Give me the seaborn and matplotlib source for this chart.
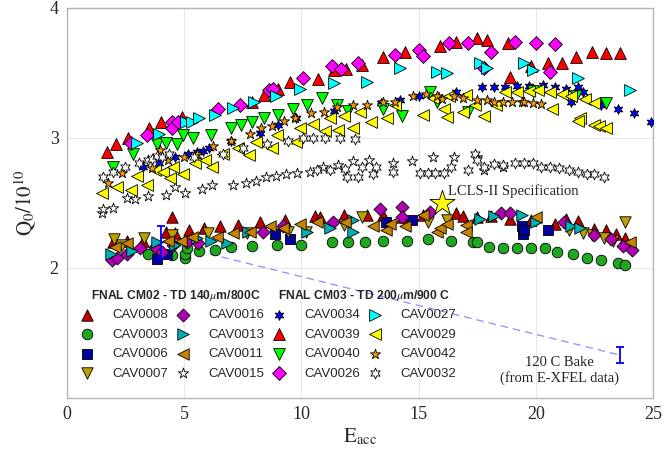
import numpy as np
import pandas as pd
import matplotlib
matplotlib.use("Agg")
import matplotlib.pyplot as plt
import seaborn as sns

# ---------------- data ----------------
# CM02 (lower band)
cav0008_x = [1.96, 2.56, 3.24, 4.22, 4.48, 4.6, 5.2, 5.84, 6.53, 7.3, 8.23, 9.3, 10.6, 10.8, 11.8, 12.8, 13.5, 14.3, 15.2, 16.6, 16.9, 17.5, 18.1, 18.9, 19.8, 20.8, 21.3, 21.8, 22.5, 23.0, 23.4, 23.8]
cav0008_y = [2.20, 2.21, 2.21, 2.28, 2.39, 2.27, 2.29, 2.31, 2.32, 2.33, 2.35, 2.37, 2.40, 2.39, 2.41, 2.41, 2.41, 2.39, 2.41, 2.42, 2.40, 2.39, 2.40, 2.38, 2.37, 2.34, 2.38, 2.36, 2.30, 2.29, 2.26, 2.23]
cav0003_x = [3.46, 4.48, 5.03, 5.03, 5.1, 5.63, 6.31, 7.0, 7.9, 8.96, 10.0, 11.3, 12.0, 12.7, 13.5, 14.5, 15.4, 16.4, 17.3, 17.5, 18.0, 18.6, 19.2, 19.8, 20.4, 20.9, 21.6, 22.2, 22.8, 23.5, 23.8]
cav0003_y = [2.11, 2.10, 2.08, 2.11, 2.15, 2.13, 2.14, 2.16, 2.17, 2.18, 2.18, 2.20, 2.20, 2.20, 2.21, 2.21, 2.22, 2.21, 2.20, 2.20, 2.16, 2.15, 2.15, 2.15, 2.15, 2.12, 2.11, 2.08, 2.06, 2.04, 2.02]
cav0006_x = [3.84, 4.27, 8.87, 9.51, 13.6, 14.7, 19.4, 19.45, 19.5, 20.5]
cav0006_y = [2.07, 2.11, 2.26, 2.22, 2.35, 2.37, 2.32, 2.26, 2.29, 2.29]
cav0007_x = [2.0, 2.35, 3.3, 4.5, 6.0, 7.68, 9.43, 10.2, 11.8, 12.6, 15.4, 16.2, 21.4, 22.0, 22.4, 22.9, 23.3, 23.8]
cav0007_y = [2.22, 2.18, 2.23, 2.25, 2.27, 2.27, 2.28, 2.28, 2.33, 2.39, 2.35, 2.37, 2.29, 2.27, 2.25, 2.23, 2.21, 2.35]
cav0016_x = [1.92, 2.13, 2.56, 3.11, 3.75, 4.05, 4.52, 5.12, 5.59, 8.36, 9.2, 11.35, 13.35, 14.3, 14.3, 15.5, 18.5, 18.9, 21.2, 22.5, 23.2, 23.7, 24.1]
cav0016_y = [2.06, 2.08, 2.11, 2.15, 2.16, 2.12, 2.18, 2.20, 2.19, 2.28, 2.32, 2.35, 2.45, 2.47, 2.39, 2.43, 2.42, 2.42, 2.35, 2.25, 2.22, 2.17, 2.14]
cav0013_x = [1.88, 2.77, 3.84, 4.6, 5.55, 6.14, 6.83, 7.72, 10.24, 11.2, 12.2, 12.2, 17.6, 18.2, 19.4, 20.0, 21.5, 21.9]
cav0013_y = [2.11, 2.13, 2.20, 2.18, 2.23, 2.21, 2.19, 2.28, 2.28, 2.31, 2.28, 2.37, 2.38, 2.40, 2.41, 2.35, 2.32, 2.31]
cav0011_x = [2.05, 2.56, 4.31, 4.86, 5.33, 6.4, 7.08, 7.8, 8.66, 9.2, 9.94, 10.67, 11.86, 13.05, 13.6, 13.8, 14.4, 15.2, 15.8, 15.9, 16.2, 17.0, 17.0, 20.0, 24.0]
cav0011_y = [2.16, 2.19, 2.21, 2.21, 2.24, 2.24, 2.27, 2.28, 2.32, 2.31, 2.34, 2.35, 2.35, 2.32, 2.29, 2.34, 2.32, 2.41, 2.28, 2.31, 2.34, 2.33, 2.28, 2.39, 2.20]
cav0015_x = [1.49, 1.54, 1.96, 2.56, 2.9, 3.46, 4.22, 4.6, 5.03, 5.76, 6.19, 7.08, 7.64, 8.06, 8.49, 8.92, 9.34, 9.81, 10.37, 10.92, 11.56, 12.2, 12.9, 13.9, 14.7, 15.6, 16.5, 17.5, 17.8, 18.6]
cav0015_y = [2.42, 2.45, 2.46, 2.54, 2.53, 2.55, 2.56, 2.62, 2.58, 2.61, 2.64, 2.64, 2.65, 2.67, 2.70, 2.71, 2.72, 2.73, 2.74, 2.78, 2.79, 2.82, 2.83, 2.81, 2.82, 2.85, 2.85, 2.85, 2.75, 2.78]

# CM03 (upper band)
cav0034_x = [3.24, 3.93, 4.6, 5.16, 5.55, 5.8, 6.06, 7.0, 8.23, 9.0, 9.77, 11.4, 13.4, 14.2, 15.0, 16.6, 17.7, 18.2, 18.7, 19.2, 19.7, 20.3, 20.8, 21.3, 21.8, 22.0, 21.5, 22.8, 23.5, 24.2, 24.9]
cav0034_y = [2.78, 2.81, 2.85, 2.88, 2.89, 2.90, 2.92, 2.98, 3.04, 3.10, 3.15, 3.21, 3.27, 3.29, 3.32, 3.35, 3.39, 3.39, 3.39, 3.40, 3.40, 3.41, 3.39, 3.38, 3.39, 3.35, 3.28, 3.25, 3.22, 3.19, 3.12]
cav0039_x = [1.7, 2.1, 2.6, 3.5, 4.0, 4.9, 7.9, 8.4, 9.0, 9.5, 10.7, 11.4, 11.9, 12.6, 13.5, 14.4, 15.9, 16.6, 17.5, 17.9, 18.8, 18.9, 19.8, 20.5, 21.1, 21.7, 22.4, 23.0, 23.6]
cav0039_y = [2.89, 2.95, 3.00, 3.08, 3.12, 3.16, 3.28, 3.33, 3.38, 3.43, 3.45, 3.52, 3.53, 3.56, 3.62, 3.66, 3.71, 3.74, 3.77, 3.75, 3.73, 3.47, 3.55, 3.58, 3.58, 3.62, 3.66, 3.65, 3.65]
cav0040_x = [1.96, 2.82, 3.84, 4.22, 4.69, 4.95, 5.38, 6.14, 7.0, 7.42, 7.9, 8.4, 9.0, 9.64, 10.24, 10.9, 11.5, 12.0, 13.5, 14.3, 15.5, 15.8, 17.1, 19.9, 21.7, 23.0]
cav0040_y = [2.78, 2.88, 2.95, 2.96, 2.95, 3.02, 3.00, 3.02, 3.08, 3.10, 3.12, 3.15, 3.18, 3.22, 3.25, 3.31, 3.25, 3.21, 3.22, 3.17, 3.35, 3.28, 3.20, 3.36, 3.32, 3.27]
cav0026_x = [2.73, 3.41, 4.48, 4.48, 4.74, 6.44, 7.38, 8.62, 8.8, 10.07, 11.3, 11.7, 12.4, 14.0, 15.0, 15.2, 16.3, 17.1, 18.1, 17.8, 19.1, 20.0, 20.8, 20.6]
cav0026_y = [2.96, 3.02, 3.12, 3.08, 3.12, 3.22, 3.25, 3.37, 3.38, 3.46, 3.55, 3.53, 3.58, 3.64, 3.68, 3.63, 3.73, 3.73, 3.66, 3.54, 3.74, 3.73, 3.72, 3.51]
cav0027_x = [2.99, 3.93, 5.08, 5.33, 5.63, 6.3, 7.1, 7.97, 8.9, 9.94, 11.4, 12.8, 14.2, 15.8, 16.2, 17.6, 17.9, 19.5, 19.9, 21.8, 24.0]
cav0027_y = [2.96, 3.03, 3.12, 3.12, 3.15, 3.18, 3.23, 3.28, 3.32, 3.38, 3.42, 3.43, 3.54, 3.51, 3.50, 3.58, 3.54, 3.58, 3.52, 3.46, 3.37]
cav0029_x = [1.49, 2.13, 2.73, 3.41, 2.99, 3.75, 4.1, 4.39, 4.52, 4.95, 5.46, 5.9, 6.2, 6.66, 7.3, 7.76, 8.06, 8.75, 8.96, 9.77, 9.94, 10.5, 11.0, 11.56, 11.2, 11.8, 12.2,
            12.5, 12.97, 13.65, 14.0, 15.2, 15.6, 16.1, 16.2, 16.9, 17.4, 17.8, 17.0, 18.3, 16.3,
            18.7, 19.2, 19.7, 20.1, 20.7, 20.6, 21.1, 21.5, 22.1, 22.5, 21.9, 21.8, 22.5, 22.7, 23.0]
cav0029_y = [2.58, 2.62, 2.60, 2.64, 2.71, 2.75, 2.74, 2.69, 2.78, 2.72, 2.81, 2.83, 2.78, 2.88, 2.92, 2.87, 2.97, 2.92, 3.02, 2.97, 3.08, 3.11, 3.05, 3.06, 3.15, 3.17, 3.08,
            3.20, 3.12, 3.15, 3.25, 3.18, 3.31, 3.22, 3.16, 3.20, 3.25, 3.17, 3.33, 3.25, 3.32,
            3.35, 3.35, 3.36, 3.37, 3.22, 3.35, 3.34, 3.32, 3.30, 3.27, 3.15, 3.13, 3.10, 3.09, 3.08]
cav0042_x = [1.75, 2.35, 3.63, 3.97, 4.3, 5.0, 5.55, 6.23, 7.0, 7.8, 8.28, 8.75, 9.26, 9.73, 10.4, 10.96, 11.5, 12.2, 12.8, 13.5, 14.0, 14.76, 15.3, 15.8, 16.0, 16.5, 16.9, 17.5, 17.9, 18.2, 18.6, 19.0, 19.4, 19.5, 19.9, 20.2]
cav0042_y = [2.65, 2.73, 2.77, 2.91, 2.83, 2.85, 2.88, 2.94, 2.98, 3.03, 3.08, 3.09, 3.13, 3.15, 3.19, 3.20, 3.24, 3.25, 3.25, 3.28, 3.28, 3.32, 3.34, 3.32, 3.30, 3.32, 3.31, 3.29, 3.29, 3.28, 3.28, 3.28, 3.28, 3.28, 3.27, 3.26]
cav0032_x = [1.54, 1.96, 2.47, 3.07, 3.46, 3.63, 3.84, 4.05, 4.35, 5.42, 6.66, 7.5, 8.53, 9.43, 10.07, 10.5, 11.0, 11.65, 12.3,
             10.67, 11.2, 11.86, 11.95, 12.4, 12.6, 13.05, 13.2, 13.9, 15.06, 15.4, 15.7, 16.1, 16.4, 17.1, 17.4, 17.5, 17.8, 18.2, 18.6,
             19.1, 19.5, 19.9, 20.2, 20.6, 21.0, 21.4, 21.8, 22.2, 22.5, 22.9]
cav0032_y = [2.70, 2.74, 2.78, 2.81, 2.83, 2.84, 2.86, 2.85, 2.88, 2.85, 2.88, 2.92, 2.95, 2.98, 3.00, 3.00, 3.00, 3.00, 2.99,
             2.75, 2.75, 2.76, 2.70, 2.70, 2.78, 2.72, 2.78, 2.74, 2.73, 2.73, 2.73, 2.73, 2.78, 2.75, 2.88, 2.83, 2.78, 2.80, 2.79,
             2.81, 2.81, 2.81, 2.78, 2.78, 2.77, 2.75, 2.74, 2.72, 2.72, 2.70]

spec_x = [16.0]
spec_y = [2.50]
bake_x = [4.0, 23.6]
bake_y = [2.20, 1.33]
bake_err = [0.12, 0.06]

x_ticks = [0, 5, 10, 15, 20, 25]
y_ticks = [2, 3, 4]

# ---------------- style ----------------
sns.set_style("white")
plt.rcParams["font.family"] = ["Liberation Serif", "DejaVu Serif"]
plt.rcParams["mathtext.fontset"] = "stix"

fig = plt.figure(figsize=(6.63, 4.65), dpi=100)
ax = fig.add_axes([0.101, 0.144, 0.884, 0.839])

hexagram = (6, 1, 0)
series = [
    ("CAV0008", cav0008_x, cav0008_y, "^", "#c00000", 68),
    ("CAV0003", cav0003_x, cav0003_y, "o", "#1fa81f", 58),
    ("CAV0006", cav0006_x, cav0006_y, "s", "#0000a0", 44),
    ("CAV0007", cav0007_x, cav0007_y, "v", "#bba000", 68),
    ("CAV0016", cav0016_x, cav0016_y, "D", "#b400b4", 44),
    ("CAV0013", cav0013_x, cav0013_y, ">", "#00b0b0", 68),
    ("CAV0011", cav0011_x, cav0011_y, "<", "#c88400", 68),
    ("CAV0015", cav0015_x, cav0015_y, "*", "#ffffff", 62),
    ("CAV0034", cav0034_x, cav0034_y, hexagram, "#0000ff", 50),
    ("CAV0039", cav0039_x, cav0039_y, "^", "#ff0000", 72),
    ("CAV0040", cav0040_x, cav0040_y, "v", "#00ff00", 72),
    ("CAV0026", cav0026_x, cav0026_y, "D", "#ff00ff", 50),
    ("CAV0027", cav0027_x, cav0027_y, ">", "#00ffff", 72),
    ("CAV0029", cav0029_x, cav0029_y, "<", "#ffff00", 72),
    ("CAV0042", cav0042_x, cav0042_y, "*", "#ff9900", 58),
    ("CAV0032", cav0032_x, cav0032_y, hexagram, "#ffffff", 60),
]

for name, xs, ys, mk, col, sz in series:
    df = pd.DataFrame({"E": xs, "Q": ys})
    sns.scatterplot(data=df, x="E", y="Q", ax=ax, marker=mk, color=col, s=sz,
                    edgecolor="black", linewidth=0.6, label=name, zorder=3)

# LCLS-II spec star
sns.scatterplot(x=spec_x, y=spec_y, ax=ax, marker="*", color="#ffff00", s=360,
                edgecolor="black", linewidth=0.6, zorder=5, legend=False)
ax.text(spec_x[0] + 0.25, spec_y[0] + 0.09, "LCLS-II Specification", fontsize=10.5,
        ha="left", va="center")

# 120 C bake
ax.plot(bake_x, bake_y, ls=(0, (6, 4)), color="#8c8cff", lw=0.9, zorder=2)
ax.errorbar(bake_x, bake_y, yerr=bake_err, fmt="none", ecolor="#0000ff", elinewidth=1.3,
            capsize=3, capthick=1.3, zorder=6)
ax.text(21.0, 1.21, "120 C Bake\n(from E-XFEL data)", fontsize=10.5, ha="center", va="center",
        linespacing=1.15)

# axes
ax.set_xlim(0, 25)
ax.set_ylim(1, 4)
ax.set_xticks(x_ticks)
ax.set_yticks(y_ticks)
ax.tick_params(labelsize=13, direction="in", length=3, color="#bbbbbb", pad=6)
ax.grid(True, color="#e8e8e8", lw=0.8)
ax.set_axisbelow(True)
for sp in ax.spines.values():
    sp.set_color("#b5b5b5")
    sp.set_linewidth(1.0)
ax.set_xlabel(r"$\mathrm{E}_{\mathrm{acc}}$", fontsize=15, labelpad=2)
ax.set_ylabel(r"$\mathrm{Q}_0/10^{10}$", fontsize=15, labelpad=8)

# legend
leg = ax.legend(ncol=4, loc="upper left", bbox_to_anchor=(0.023, 0.228), frameon=False,
                prop={"family": "Liberation Sans", "size": 9.5}, handlelength=1.0,
                handletextpad=1.4, columnspacing=0.65, labelspacing=0.55, borderpad=0,
                borderaxespad=0, scatterpoints=1)
ax.text(0.041, 0.262, r"FNAL CM02 - TD 140$\mu$m/800C", transform=ax.transAxes,
        fontsize=8.7, fontweight="bold", family="Liberation Sans", va="center", ha="left")
ax.text(0.360, 0.262, r"FNAL CM03 - TD 200$\mu$m/900 C", transform=ax.transAxes,
        fontsize=8.7, fontweight="bold", family="Liberation Sans", va="center", ha="left")

fig.savefig("out.png", dpi=100)
